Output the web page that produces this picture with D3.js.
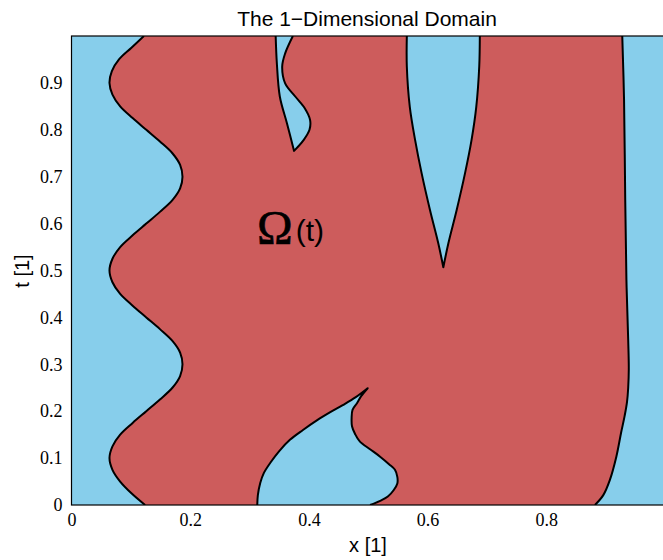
<!DOCTYPE html>
<html lang="en">
<head>
    <meta charset="UTF-8">
    <title>The 1-Dimensional Domain</title>
    <style>
        body, html {
            margin: 0;
            padding: 0;
            background: #fff;
        }
        .label {
            font-family: "Liberation Sans", Arial, sans-serif;
            fill: #000;
        }
        .edge {
            fill: none;
            stroke: #000;
            stroke-width: 2px;
            stroke-linejoin: round;
        }
    </style>
</head>
<body>
<div id="chart"></div>

<script src="https://d3js.org/d3.v7.min.js"></script>
<script>
    // boundary curves, as [x, t] pairs
    const leftEdge = [
        [0.122, 1.000], [0.101, 0.975], [0.080, 0.950], [0.068, 0.925], [0.064, 0.900],
        [0.069, 0.875], [0.082, 0.850], [0.103, 0.825], [0.126, 0.800], [0.149, 0.775],
        [0.170, 0.750], [0.183, 0.725], [0.187, 0.700], [0.183, 0.675], [0.170, 0.650],
        [0.149, 0.625], [0.126, 0.600], [0.103, 0.575], [0.082, 0.550], [0.069, 0.525],
        [0.064, 0.500], [0.069, 0.475], [0.082, 0.450], [0.103, 0.425], [0.126, 0.400],
        [0.149, 0.375], [0.170, 0.350], [0.183, 0.325], [0.187, 0.300], [0.183, 0.275],
        [0.170, 0.250], [0.149, 0.225], [0.126, 0.200], [0.103, 0.175], [0.082, 0.150],
        [0.069, 0.125], [0.064, 0.100], [0.069, 0.075], [0.082, 0.050], [0.101, 0.025],
        [0.124, 0.000]
    ];
    const rightEdge = [
        [0.882, 0.000], [0.896, 0.021], [0.907, 0.053], [0.918, 0.103], [0.926, 0.154],
        [0.932, 0.190], [0.936, 0.220], [0.938, 0.250], [0.939, 0.290], [0.938, 0.352],
        [0.935, 0.480], [0.933, 0.650], [0.931, 0.864], [0.928, 1.000]
    ];
    // thin gap near the top, left side then right side, both ending in the tip
    const sliverLeft = [
        [0.344, 1.0], [0.346, 0.942], [0.351, 0.871], [0.363, 0.814], [0.375, 0.755]
    ];
    const sliverRight = [
        [0.373, 1.0], [0.360, 0.963], [0.355, 0.935], [0.360, 0.899], [0.377, 0.871],
        [0.393, 0.846], [0.402, 0.821], [0.401, 0.800], [0.391, 0.778], [0.375, 0.755]
    ];
    // wedge hanging from the top
    const wedgeLeft = [
        [0.565, 1.0], [0.565, 0.935], [0.570, 0.849], [0.579, 0.778], [0.590, 0.707],
        [0.604, 0.629], [0.618, 0.558], [0.6265, 0.507]
    ];
    const wedgeRight = [
        [0.688, 1.0], [0.687, 0.935], [0.682, 0.849], [0.674, 0.778], [0.663, 0.707],
        [0.649, 0.629], [0.635, 0.558], [0.6265, 0.507]
    ];
    // bump rising from the bottom
    const bumpRise = [
        [0.313, 0.000], [0.314, 0.021], [0.318, 0.047], [0.324, 0.068], [0.335, 0.090],
        [0.350, 0.115], [0.368, 0.139], [0.390, 0.160], [0.414, 0.181], [0.436, 0.198],
        [0.457, 0.213], [0.479, 0.230], [0.499, 0.249]
    ];
    const bumpFall = [
        [0.499, 0.249], [0.488, 0.232], [0.481, 0.217], [0.4735, 0.203], [0.472, 0.186],
        [0.4726, 0.168], [0.478, 0.151], [0.486, 0.135], [0.503, 0.119], [0.520, 0.103],
        [0.535, 0.087], [0.545, 0.075], [0.549, 0.060], [0.549, 0.046], [0.543, 0.032],
        [0.533, 0.018], [0.520, 0.009], [0.503, 0.000]
    ];

    const xTicks = [0, 0.2, 0.4, 0.6, 0.8];
    const tTicks = [0, 0.1, 0.2, 0.3, 0.4, 0.5, 0.6, 0.7, 0.8, 0.9];

    const width = 663, height = 560;
    const margin = {left: 71.5, right: 665, top: 36, bottom: 505};

    const x = d3.scaleLinear().domain([0, 1]).range([margin.left, margin.right]);
    const y = d3.scaleLinear().domain([0, 1]).range([margin.bottom, margin.top]);

    const svg = d3.select("#chart").append("svg")
        .attr("width", width)
        .attr("height", height);

    svg.append("defs").append("clipPath").attr("id", "plot-clip")
        .append("rect")
        .attr("x", x(0)).attr("y", y(1))
        .attr("width", x(1) - x(0)).attr("height", y(0) - y(1));

    const line = d3.line()
        .x(d => x(d[0]))
        .y(d => y(d[1]))
        .curve(d3.curveCatmullRom.alpha(0.5));

    // join several smooth pieces so the tips stay sharp
    function joined(pieces, close) {
        let d = pieces.map((p, i) => {
            const s = line(p);
            return i === 0 ? s : "L" + s.slice(1);
        }).join("");
        return close ? d + "Z" : d;
    }

    const plot = svg.append("g").attr("clip-path", "url(#plot-clip)");

    plot.append("rect")
        .attr("x", x(0)).attr("y", y(1))
        .attr("width", x(1) - x(0)).attr("height", y(0) - y(1))
        .attr("fill", "#87ceeb");

    // red domain between the left and right edges
    plot.append("path")
        .attr("d", joined([leftEdge, rightEdge], true))
        .attr("fill", "#cd5c5c");

    // blue holes
    plot.append("path")
        .attr("d", joined([sliverLeft, sliverRight.slice().reverse()], true))
        .attr("fill", "#87ceeb");
    plot.append("path")
        .attr("d", joined([wedgeLeft, wedgeRight.slice().reverse()], true))
        .attr("fill", "#87ceeb");
    plot.append("path")
        .attr("d", joined([bumpRise, bumpFall], true))
        .attr("fill", "#87ceeb");

    // black boundary lines
    [[leftEdge], [rightEdge], [sliverLeft, sliverRight.slice().reverse()],
     [wedgeLeft, wedgeRight.slice().reverse()], [bumpRise, bumpFall]].forEach(p => {
        plot.append("path").attr("class", "edge").attr("d", joined(p, false));
    });

    // axes box
    svg.append("rect")
        .attr("x", x(0)).attr("y", y(1))
        .attr("width", x(1) - x(0)).attr("height", y(0) - y(1))
        .attr("fill", "none")
        .attr("stroke", "#000")
        .attr("stroke-width", 1.2);

    const xAxis = svg.append("g")
        .attr("transform", `translate(0,${y(0)})`)
        .call(d3.axisBottom(x).tickValues(xTicks).tickSize(0).tickPadding(8).tickFormat(d3.format("")));
    xAxis.select(".domain").remove();

    const yAxis = svg.append("g")
        .attr("transform", `translate(${x(0)},0)`)
        .call(d3.axisLeft(y).tickValues(tTicks).tickSize(0).tickPadding(9).tickFormat(d3.format("")));
    yAxis.select(".domain").remove();

    svg.selectAll(".tick text")
        .style("font-family", "'Liberation Serif', 'DejaVu Serif', 'Times New Roman', serif")
        .style("font-size", "18px")
        .style("fill", "#000");

    svg.append("text")
        .attr("class", "label")
        .attr("x", 367).attr("y", 26)
        .attr("text-anchor", "middle")
        .attr("font-size", 21)
        .text("The 1\u2212Dimensional Domain");

    svg.append("text")
        .attr("class", "label")
        .attr("x", 368).attr("y", 552)
        .attr("text-anchor", "middle")
        .attr("font-size", 20)
        .text("x [1]");

    svg.append("text")
        .attr("class", "label")
        .attr("transform", "translate(29,271) rotate(-90)")
        .attr("text-anchor", "middle")
        .attr("font-size", 20)
        .text("t [1]");

    // domain label inside the red region
    const omega = svg.append("text")
        .attr("x", 257).attr("y", 244);
    omega.append("tspan")
        .attr("font-family", "'Liberation Serif', 'DejaVu Serif', serif")
        .attr("font-size", 48)
        .attr("stroke", "#000")
        .attr("stroke-width", 0.6)
        .text("\u03a9");
    omega.append("tspan")
        .attr("class", "label")
        .attr("font-size", 30)
        .attr("dx", 3)
        .attr("dy", -3)
        .text("(t)");
</script>
</body>
</html>
